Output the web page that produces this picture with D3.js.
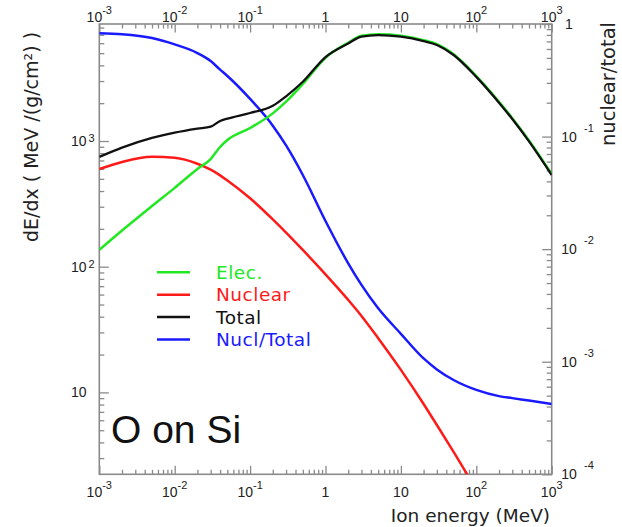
<!DOCTYPE html>
<html>
<head>
<meta charset="utf-8">
<script src="https://cdn.jsdelivr.net/npm/d3@7"></script>
<style>
  body { margin: 0; background: #fff; }
  svg { display: block; }
  .tick line { stroke: #8a8a8a; stroke-width: 1.3; }
  .domain { stroke: none; }
</style>
</head>
<body>
<div id="chart"></div>
<script>
// Ion energy grid (MeV)
const energy = [0.001, 0.002, 0.005, 0.01, 0.02, 0.03, 0.04, 0.05, 0.1, 0.2, 0.3, 0.5,
    1, 2, 3, 5, 10, 20, 30, 50, 100, 200, 300, 500, 1000];

// stopping powers, MeV/(g/cm2)
const elec = [136, 194, 304, 424, 599, 719, 896, 1018, 1269, 1659, 2055, 2840,
    4600, 6050, 6880, 7070, 6880, 6330, 5900, 4900, 3285, 2050, 1520, 1010, 545];
const nuclear = [598, 681, 748, 735, 659, 591, 533, 485, 350, 238, 187, 136,
    86.9, 54.4, 40.6, 27.0, 15.1, 8.09, 5.5, 3.36, 1.68, null, null, null, null];
const total = [747, 886, 1058, 1166, 1255, 1302, 1443, 1507, 1670, 1905, 2269, 2963,
    4656, 5970, 6776, 6970, 6776, 6239, 5808, 4831, 3236, 2018, 1497, 994, 536];
// nuclear / total (right axis)
const ratio = [0.826, 0.81, 0.75, 0.659, 0.552, 0.469, 0.393, 0.345, 0.216, 0.125, 0.0834, 0.0456,
    0.0178, 0.00748, 0.00481, 0.00298, 0.00177, 0.00107, 0.000855, 0.000688, 0.000562, 0.000495, 0.000475, 0.000452, 0.000422];

const xTicks = [1e-3, 1e-2, 1e-1, 1, 10, 100, 1000];
const leftTicks = [10, 100, 1000];
const rightTicks = [1e-4, 1e-3, 1e-2, 1e-1, 1];

const legendItems = [
    { name: "Elec.", color: "#22e822" },
    { name: "Nuclear", color: "#ff1a1a" },
    { name: "Total", color: "#111111" },
    { name: "Nucl/Total", color: "#1a1aff" }
];

const W = 622, H = 527;
const pLeft = 99.3, pRight = 551.7, pTop = 24, pBottom = 474.3;

const svg = d3.select("#chart").append("svg")
    .attr("width", W)
    .attr("height", H)
    .style("font-family", "'Liberation Sans', Arial, sans-serif");

const x = d3.scaleLog().domain([1e-3, 1e3]).range([pLeft, pRight]);
const yL = d3.scaleLog().domain([2.23, 8530]).range([pBottom, pTop]);
const yR = d3.scaleLog().domain([1e-4, 1]).range([pBottom, pTop]);

// minor tick positions (2..9 in every decade)
function minors(lo, hi) {
    const out = [];
    for (let p = Math.floor(Math.log10(lo)); p <= Math.ceil(Math.log10(hi)); p++) {
        for (let m = 2; m <= 9; m++) {
            const v = m * Math.pow(10, p);
            if (v > lo && v < hi) out.push(v);
        }
    }
    return out;
}

function tickAxis(axisFn, scale, pos, values, size) {
    svg.append("g")
        .attr("transform", pos)
        .call(axisFn(scale).tickValues(values).tickSizeInner(size).tickSizeOuter(0).tickFormat(""));
}

// ticks point inward on all four sides
tickAxis(d3.axisBottom, x, `translate(0,${pBottom})`, minors(1e-3, 1e3), -4.5);
tickAxis(d3.axisBottom, x, `translate(0,${pBottom})`, xTicks, -8.5);
tickAxis(d3.axisTop, x, `translate(0,${pTop})`, minors(1e-3, 1e3), -4.5);
tickAxis(d3.axisTop, x, `translate(0,${pTop})`, xTicks, -8.5);
tickAxis(d3.axisLeft, yL, `translate(${pLeft},0)`, minors(2.23, 8530), -5);
tickAxis(d3.axisLeft, yL, `translate(${pLeft},0)`, leftTicks, -9.5);
tickAxis(d3.axisRight, yR, `translate(${pRight},0)`, minors(1e-4, 1), -5);
tickAxis(d3.axisRight, yR, `translate(${pRight},0)`, rightTicks, -9.5);

// frame
svg.append("rect")
    .attr("x", pLeft).attr("y", pTop)
    .attr("width", pRight - pLeft).attr("height", pBottom - pTop)
    .attr("fill", "none")
    .attr("stroke", "#8a8a8a")
    .attr("stroke-width", 1.6);

function expOf(v) { return Math.round(Math.log10(v)); }

// x labels, bottom and top
function xLabels(yBase) {
    xTicks.forEach(v => {
        const e = expOf(v);
        const t = svg.append("text")
            .attr("x", x(v)).attr("y", yBase)
            .attr("text-anchor", "middle")
            .attr("font-size", 14)
            .attr("fill", "#222");
        if (e === 0) t.text("1");
        else if (e === 1) t.text("10");
        else {
            t.append("tspan").text("10");
            t.append("tspan").attr("dy", -8).attr("font-size", 11).text(e);
        }
    });
}
xLabels(497);
xLabels(22);

// left labels
leftTicks.forEach(v => {
    const e = expOf(v);
    svg.append("text")
        .attr("x", 86.5).attr("y", yL(v) + 5)
        .attr("text-anchor", "end")
        .attr("font-size", 14)
        .attr("fill", "#222")
        .text("10");
    if (e > 1) {
        svg.append("text")
            .attr("x", 88.5).attr("y", yL(v) + 1)
            .attr("font-size", 11)
            .attr("fill", "#222")
            .text(e);
    }
});

// right labels
rightTicks.forEach(v => {
    const e = expOf(v);
    svg.append("text")
        .attr("x", 569).attr("y", yR(v) + 5)
        .attr("text-anchor", "middle")
        .attr("font-size", 14)
        .attr("fill", "#222")
        .text(e === 0 ? "1" : "10");
    if (e < 0) {
        svg.append("text")
            .attr("x", 584).attr("y", yR(v) - 5)
            .attr("font-size", 11)
            .attr("fill", "#222")
            .text("-" + Math.abs(e));
    }
});

// axis titles
svg.append("text")
    .attr("transform", "translate(38,137) rotate(-90)")
    .attr("text-anchor", "middle")
    .attr("font-family", "'DejaVu Sans', sans-serif")
    .attr("font-size", 19)
    .attr("fill", "#222")
    .text("dE/dx ( MeV /(g/cm\u00b2) )");

svg.append("text")
    .attr("transform", "translate(615,84) rotate(-90)")
    .attr("text-anchor", "middle")
    .attr("font-family", "'DejaVu Sans', sans-serif")
    .attr("font-size", 19.5)
    .attr("fill", "#222")
    .text("nuclear/total");

svg.append("text")
    .attr("x", 550).attr("y", 522)
    .attr("text-anchor", "end")
    .attr("font-family", "'DejaVu Sans', sans-serif")
    .attr("font-size", 18.5)
    .attr("fill", "#222")
    .text("Ion energy (MeV)");

// curves
svg.append("clipPath").attr("id", "plot-clip")
    .append("rect")
    .attr("x", pLeft).attr("y", pTop)
    .attr("width", pRight - pLeft).attr("height", pBottom - pTop);

const plot = svg.append("g").attr("clip-path", "url(#plot-clip)");

function drawSeries(values, yScale, color, width) {
    const line = d3.line()
        .defined((d, i) => values[i] != null)
        .x((d, i) => x(energy[i]))
        .y((d, i) => yScale(values[i]))
        .curve(d3.curveMonotoneX);
    plot.append("path")
        .attr("d", line(values))
        .attr("fill", "none")
        .attr("stroke", color)
        .attr("stroke-width", width)
        .attr("stroke-linejoin", "round");
}

drawSeries(ratio, yR, legendItems[3].color, 2.5);
drawSeries(nuclear, yL, legendItems[1].color, 2.5);
drawSeries(elec, yL, legendItems[0].color, 2.5);
drawSeries(total, yL, legendItems[2].color, 2.3);

// legend
const legend = svg.append("g");
legendItems.forEach((d, i) => {
    const yy = 272.3 + i * 22.4;
    legend.append("line")
        .attr("x1", 157).attr("x2", 190)
        .attr("y1", yy).attr("y2", yy)
        .attr("stroke", d.color)
        .attr("stroke-width", 2.5);
    legend.append("text")
        .attr("x", 216).attr("y", yy + 6.5)
        .attr("font-family", "'DejaVu Sans', sans-serif")
        .attr("font-size", 18.5)
        .attr("letter-spacing", 0.5)
        .attr("fill", d.color)
        .text(d.name);
});

svg.append("text")
    .attr("x", 111).attr("y", 443)
    .attr("font-size", 39)
    .attr("fill", "#111")
    .text("O on Si");
</script>
</body>
</html>
